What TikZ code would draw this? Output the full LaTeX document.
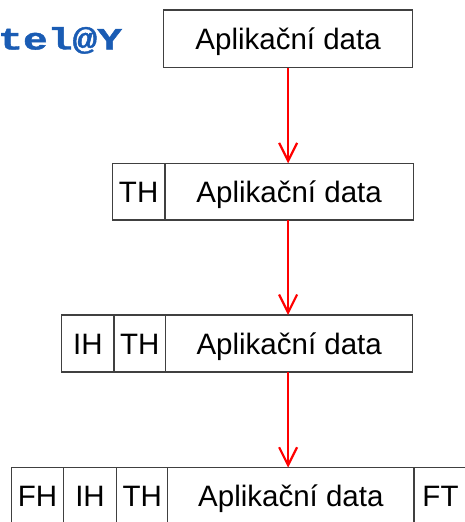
\documentclass[tikz,border=0pt]{standalone}
\usepackage{fontspec}
\setmainfont{Liberation Sans}
\newfontfamily\codefont[FakeBold=1.3]{Liberation Mono Bold}
\usetikzlibrary{arrows.meta}
\definecolor{framegray}{HTML}{404040}
\definecolor{codeblue}{HTML}{1A5CB4}
\begin{document}
\begin{tikzpicture}[x=1pt,y=-1pt,
  seg/.style={draw=framegray,line width=1.3pt,inner sep=0pt,outer sep=0pt,
    anchor=north west,font=\fontsize{29.5}{30}\selectfont,
    text height=21pt,text depth=0pt},
  flow/.style={draw=red,line width=2.2pt,
    -{Straight Barb[length=18pt,width=18pt,line width=2.2pt]}}]
\path[use as bounding box] (0,0) rectangle (465,522);
\clip (0,0) rectangle (465,522);

% heading fragment
\node[anchor=base west,inner sep=0pt,text=codeblue,xscale=1.33,
  font=\codefont\fontsize{31}{32}\selectfont] (title) at (-2,49.5) {tel@Y};

% application data
\node[seg,minimum width=249.2pt,minimum height=57.7pt] (d1) at (163.5,10) {Aplikační data};

% transport layer
\node[seg,minimum width=52.7pt,minimum height=56.7pt] (th2) at (112.3,163.3) {TH};
\node[seg,minimum width=248.3pt,minimum height=56.7pt] (d2) at (165,163.3) {Aplikační data};

% network layer
\node[seg,minimum width=52.3pt,minimum height=57pt] (ih3) at (61.7,315) {IH};
\node[seg,minimum width=51.7pt,minimum height=57pt] (th3) at (114,315) {TH};
\node[seg,minimum width=247pt,minimum height=57pt] (d3) at (165.7,315) {Aplikační data};

% link layer
\node[seg,minimum width=51.6pt,minimum height=57.5pt] (fh4) at (11.7,467.7) {FH};
\node[seg,minimum width=53.4pt,minimum height=57.5pt] (ih4) at (63.3,467.7) {IH};
\node[seg,minimum width=51pt,minimum height=57.5pt] (th4) at (116.7,467.7) {TH};
\node[seg,minimum width=246.3pt,minimum height=57.5pt] (d4) at (167.7,467.7) {Aplikační data};
\node[seg,minimum width=53pt,minimum height=57.5pt] (ft4) at (414,467.7) {FT};

% encapsulation steps
\draw[flow] (d1.south) -- (d1.south |- d2.north);
\draw[flow] (d1.south |- d2.south) -- (d1.south |- d3.north);
\draw[flow] (d1.south |- d3.south) -- (d1.south |- d4.north);
\end{tikzpicture}
\end{document}
